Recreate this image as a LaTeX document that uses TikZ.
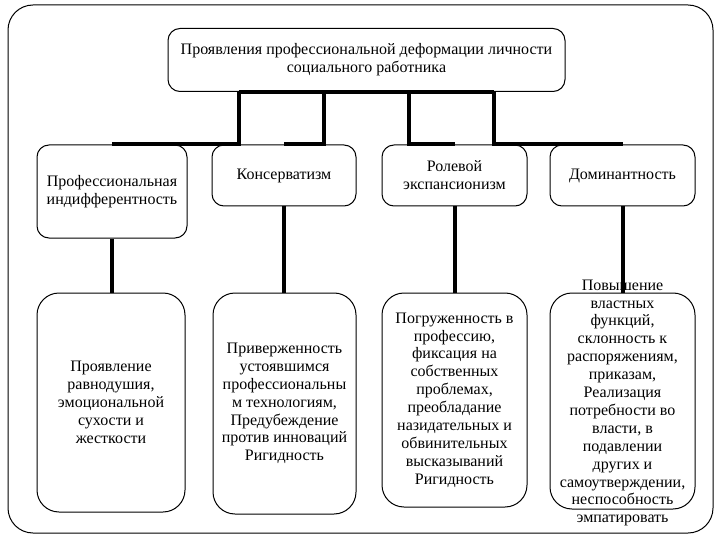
\documentclass[tikz,border=0pt]{standalone}
\usepackage{fontspec}
\setmainfont{Liberation Serif}
\usetikzlibrary{positioning}
\tikzstyle{topbox} = [
    rectangle,
    rounded corners=12pt,
    minimum width=397pt,
    minimum height=63pt,
    align=center,
    draw=black,
    line width=1pt
]
\tikzstyle{headbox} = [
    rectangle,
    rounded corners=12pt,
    minimum width=145pt,
    minimum height=61pt,
    align=center,
    draw=black,
    line width=1pt
]
\tikzstyle{descbox} = [
    rectangle,
    rounded corners=22pt,
    minimum width=145pt,
    minimum height=216pt,
    align=center,
    draw=black,
    line width=1pt
]
\tikzstyle{conn} = [line width=4pt]

\begin{document}
\begin{tikzpicture}[x=1pt, y=-1pt, font=\fontsize{16}{17.9}\selectfont, inner sep=0pt]

\useasboundingbox (0,0) rectangle (720,540);
\draw[line width=1pt, rounded corners=25pt] (8,5) rectangle (713,533);

\node (top) [topbox] at (366.5,60)
{Проявления профессиональной деформации личности\\социального работника};

\node (h1) [headbox, minimum width=150pt, minimum height=93pt] at (112,191.5)
{Профессиональная\\индифферентность};
\node (h2) [headbox, minimum width=144pt] at (284,175.5) {Консерватизм};
\node (h3) [headbox] at (454.5,175.5) {Ролевой\\экспансионизм};
\node (h4) [headbox] at (622.5,175.5) {Доминантность};

\node (d1) [descbox, minimum width=148pt, minimum height=219pt] at (111,402.5)
{Проявление\\равнодушия,\\эмоциональной\\сухости и\\жесткости};
\node (d2) [descbox, minimum width=143pt, minimum height=221pt] at (284.5,403.5)
{Приверженность\\устоявшимся\\профессиональны\\м технологиям,\\Предубеждение\\против инноваций\\Ригидность};
\node (d3) [descbox, minimum height=214pt] at (454.5,400)
{Погруженность в\\профессию,\\фиксация на\\собственных\\проблемах,\\преобладание\\назидательных и\\обвинительных\\высказываний\\Ригидность};
\node (d4) [descbox] at (622.5,401) {};
\node (d4text) [align=center] at (622.5,403)
{Повышение\\властных\\функций,\\склонность к\\распоряжениям,\\приказам,\\Реализация\\потребности во\\власти, в\\подавлении\\других и\\самоутверждении,\\неспособность\\эмпатировать};

% from the top box
\draw[conn] ([xshift=-127.5pt]top.south) -- ([xshift=127.5pt]top.south);
\draw[conn] ([xshift=-127.5pt]top.south) |- (h1.north);
\draw[conn] ([xshift=-42.5pt]top.south) |- (h2.north);
\draw[conn] ([xshift=42.5pt]top.south) |- (h3.north);
\draw[conn] ([xshift=127.5pt]top.south) |- (h4.north);

% down to the descriptions
\draw[conn] (h1.south) -- (h1.south |- d1.north);
\draw[conn] (h2.south) -- (h2.south |- d2.north);
\draw[conn] (h3.south) -- (h3.south |- d3.north);
\draw[conn] (h4.south) -- (h4.south |- d4.north);

\end{tikzpicture}
\end{document}
